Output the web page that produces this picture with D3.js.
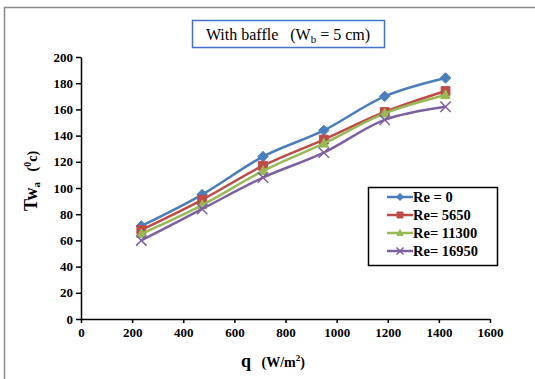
<!DOCTYPE html>
<html>
<head>
<meta charset="utf-8">
<script src="https://cdn.jsdelivr.net/npm/d3@7"></script>
<style>
body { margin: 0; background: #fff; }
svg text { font-family: 'Liberation Serif', 'DejaVu Serif', 'Times New Roman', serif; }
</style>
</head>
<body>
<div id="chart"></div>
<script>
var qValues = [236, 474, 712, 950, 1188, 1426];
var re0 = [71, 95, 124, 144, 170, 184];
var re5650 = [68, 91, 117, 137, 158, 174];
var re11300 = [65, 87, 113, 134, 157, 171];
var re16950 = [60, 84, 108, 127, 152, 162];
var seriesNames = ['Re = 0', 'Re= 5650', 'Re= 11300', 'Re= 16950'];
var xTicks = [0, 200, 400, 600, 800, 1000, 1200, 1400, 1600];
var yTicks = [0, 20, 40, 60, 80, 100, 120, 140, 160, 180, 200];

var width = 535;
var height = 379;
var serif = "'Liberation Serif', 'DejaVu Serif', serif";

var series = [
    { name: seriesNames[0], values: re0, color: '#4a7ebb', marker: 'diamond' },
    { name: seriesNames[1], values: re5650, color: '#be4b48', marker: 'square' },
    { name: seriesNames[2], values: re11300, color: '#98b954', marker: 'triangle' },
    { name: seriesNames[3], values: re16950, color: '#7d60a0', marker: 'cross' }
];

var svg = d3.select('#chart')
    .append('svg')
    .attr('width', width)
    .attr('height', height)
    .attr('font-family', serif);

// outer frame (only top/left visible in the picture)
svg.append('path')
    .attr('d', 'M4.5,' + height + 'V7.5H' + width)
    .attr('fill', 'none')
    .attr('stroke', '#8c8c8c')
    .attr('stroke-width', 1.5);

var x = d3.scaleLinear().domain([0, 1600]).range([81, 490]);
var y = d3.scaleLinear().domain([0, 200]).range([319, 57]);

var xAxis = svg.append('g')
    .attr('transform', 'translate(0,' + y(0) + ')')
    .call(d3.axisBottom(x).tickValues(xTicks).tickFormat(d3.format('d')).tickSize(4).tickSizeOuter(0));

var yAxis = svg.append('g')
    .attr('transform', 'translate(' + x(0) + ',0)')
    .call(d3.axisLeft(y).tickValues(yTicks).tickFormat(d3.format('d')).tickSize(5).tickSizeOuter(0));

[xAxis, yAxis].forEach(function (ax) {
    ax.attr('font-family', serif).attr('font-size', 13);
    ax.select('.domain').attr('stroke', '#000').attr('stroke-width', 1.5);
    ax.selectAll('.tick line').attr('stroke', '#000').attr('stroke-width', 1.5);
    ax.selectAll('.tick text')
        .attr('fill', '#000')
        .style('font-weight', 'bold');
});
xAxis.selectAll('.tick text').attr('y', 9);
yAxis.selectAll('.tick text').attr('x', -8);

var line = d3.line()
    .x(function (d) { return x(d.q); })
    .y(function (d) { return y(d.v); })
    .curve(d3.curveCatmullRom.alpha(0.5));

function markerPath(type, s) {
    if (type === 'diamond') return 'M0,' + (-s) + 'L' + s + ',0L0,' + s + 'L' + (-s) + ',0Z';
    if (type === 'square') return 'M' + (-s * 0.85) + ',' + (-s * 0.85) + 'h' + (s * 1.7) + 'v' + (s * 1.7) + 'h' + (-s * 1.7) + 'Z';
    if (type === 'triangle') return 'M0,' + (-s) + 'L' + (s * 0.9) + ',' + (s * 0.7) + 'L' + (-s * 0.9) + ',' + (s * 0.7) + 'Z';
    return 'M' + (-s) + ',' + (-s) + 'L' + s + ',' + s + 'M' + (-s) + ',' + s + 'L' + s + ',' + (-s);
}

function drawMarker(g, type, color, s) {
    g.append('path')
        .attr('d', markerPath(type, s))
        .attr('fill', type === 'cross' ? 'none' : color)
        .attr('stroke', color)
        .attr('stroke-width', type === 'cross' ? 1.5 : 1);
}

series.forEach(function (s) {
    var pts = qValues.map(function (q, i) { return { q: q, v: s.values[i] }; });
    svg.append('path')
        .datum(pts)
        .attr('d', line)
        .attr('fill', 'none')
        .attr('stroke', s.color)
        .attr('stroke-width', 2.5);
    pts.forEach(function (p) {
        var g = svg.append('g')
            .attr('transform', 'translate(' + x(p.q) + ',' + y(p.v) + ')');
        drawMarker(g, s.marker, s.color, 5.2);
    });
});

// title box
var title = svg.append('g');
title.append('rect')
    .attr('x', 192.5).attr('y', 20.5)
    .attr('width', 192).attr('height', 27)
    .attr('fill', '#fff')
    .attr('stroke', '#4472c4')
    .attr('stroke-width', 1.5);
var tt = title.append('text')
    .attr('x', 288).attr('y', 39.5)
    .attr('text-anchor', 'middle')
    .style('font-size', '16px');
tt.append('tspan').text('With baffle\u00a0\u00a0\u00a0(W');
tt.append('tspan').attr('dy', 3).style('font-size', '11px').text('b');
tt.append('tspan').attr('dy', -3).text(' = 5 cm)');

// axis titles
var xl = svg.append('text')
    .attr('x', 273).attr('y', 367)
    .attr('text-anchor', 'middle')
    .style('font-weight', 'bold');
xl.append('tspan').style('font-size', '18px').text('q');
xl.append('tspan').style('font-size', '14px').text('\u00a0\u00a0\u00a0(W/m');
xl.append('tspan').style('font-size', '9px').attr('dy', -6).text('2');
xl.append('tspan').style('font-size', '14px').attr('dy', 6).text(')');

var yl = svg.append('text')
    .attr('transform', 'translate(37,181) rotate(-90)')
    .attr('text-anchor', 'middle')
    .style('font-weight', 'bold');
yl.append('tspan').style('font-size', '18px').text('Tw');
yl.append('tspan').style('font-size', '11px').attr('dy', 3).text('a');
yl.append('tspan').style('font-size', '14px').attr('dy', -3).text('\u00a0\u00a0\u00a0(');
yl.append('tspan').style('font-size', '10px').attr('dy', -6).text('0');
yl.append('tspan').style('font-size', '14px').attr('dy', 6).text('c)');

// legend
var legend = svg.append('g');
legend.append('rect')
    .attr('x', 368.5).attr('y', 187.5)
    .attr('width', 129).attr('height', 78)
    .attr('fill', '#fff')
    .attr('stroke', '#000')
    .attr('stroke-width', 1.5);

var item = legend.selectAll('.legend')
    .data(series)
    .enter()
    .append('g')
    .attr('class', 'legend')
    .attr('transform', function (d, i) {
        return 'translate(0,' + (197 + i * 18) + ')';
    });

item.append('line')
    .attr('x1', 387).attr('x2', 413)
    .attr('stroke', function (d) { return d.color; })
    .attr('stroke-width', 2.5);

item.each(function (d) {
    var g = d3.select(this).append('g').attr('transform', 'translate(400,0)');
    drawMarker(g, d.marker, d.color, 3.5);
});

item.append('text')
    .attr('x', 413)
    .attr('y', 5)
    .style('font-size', '14.5px')
    .style('font-weight', 'bold')
    .text(function (d) { return d.name; });
</script>
</body>
</html>
